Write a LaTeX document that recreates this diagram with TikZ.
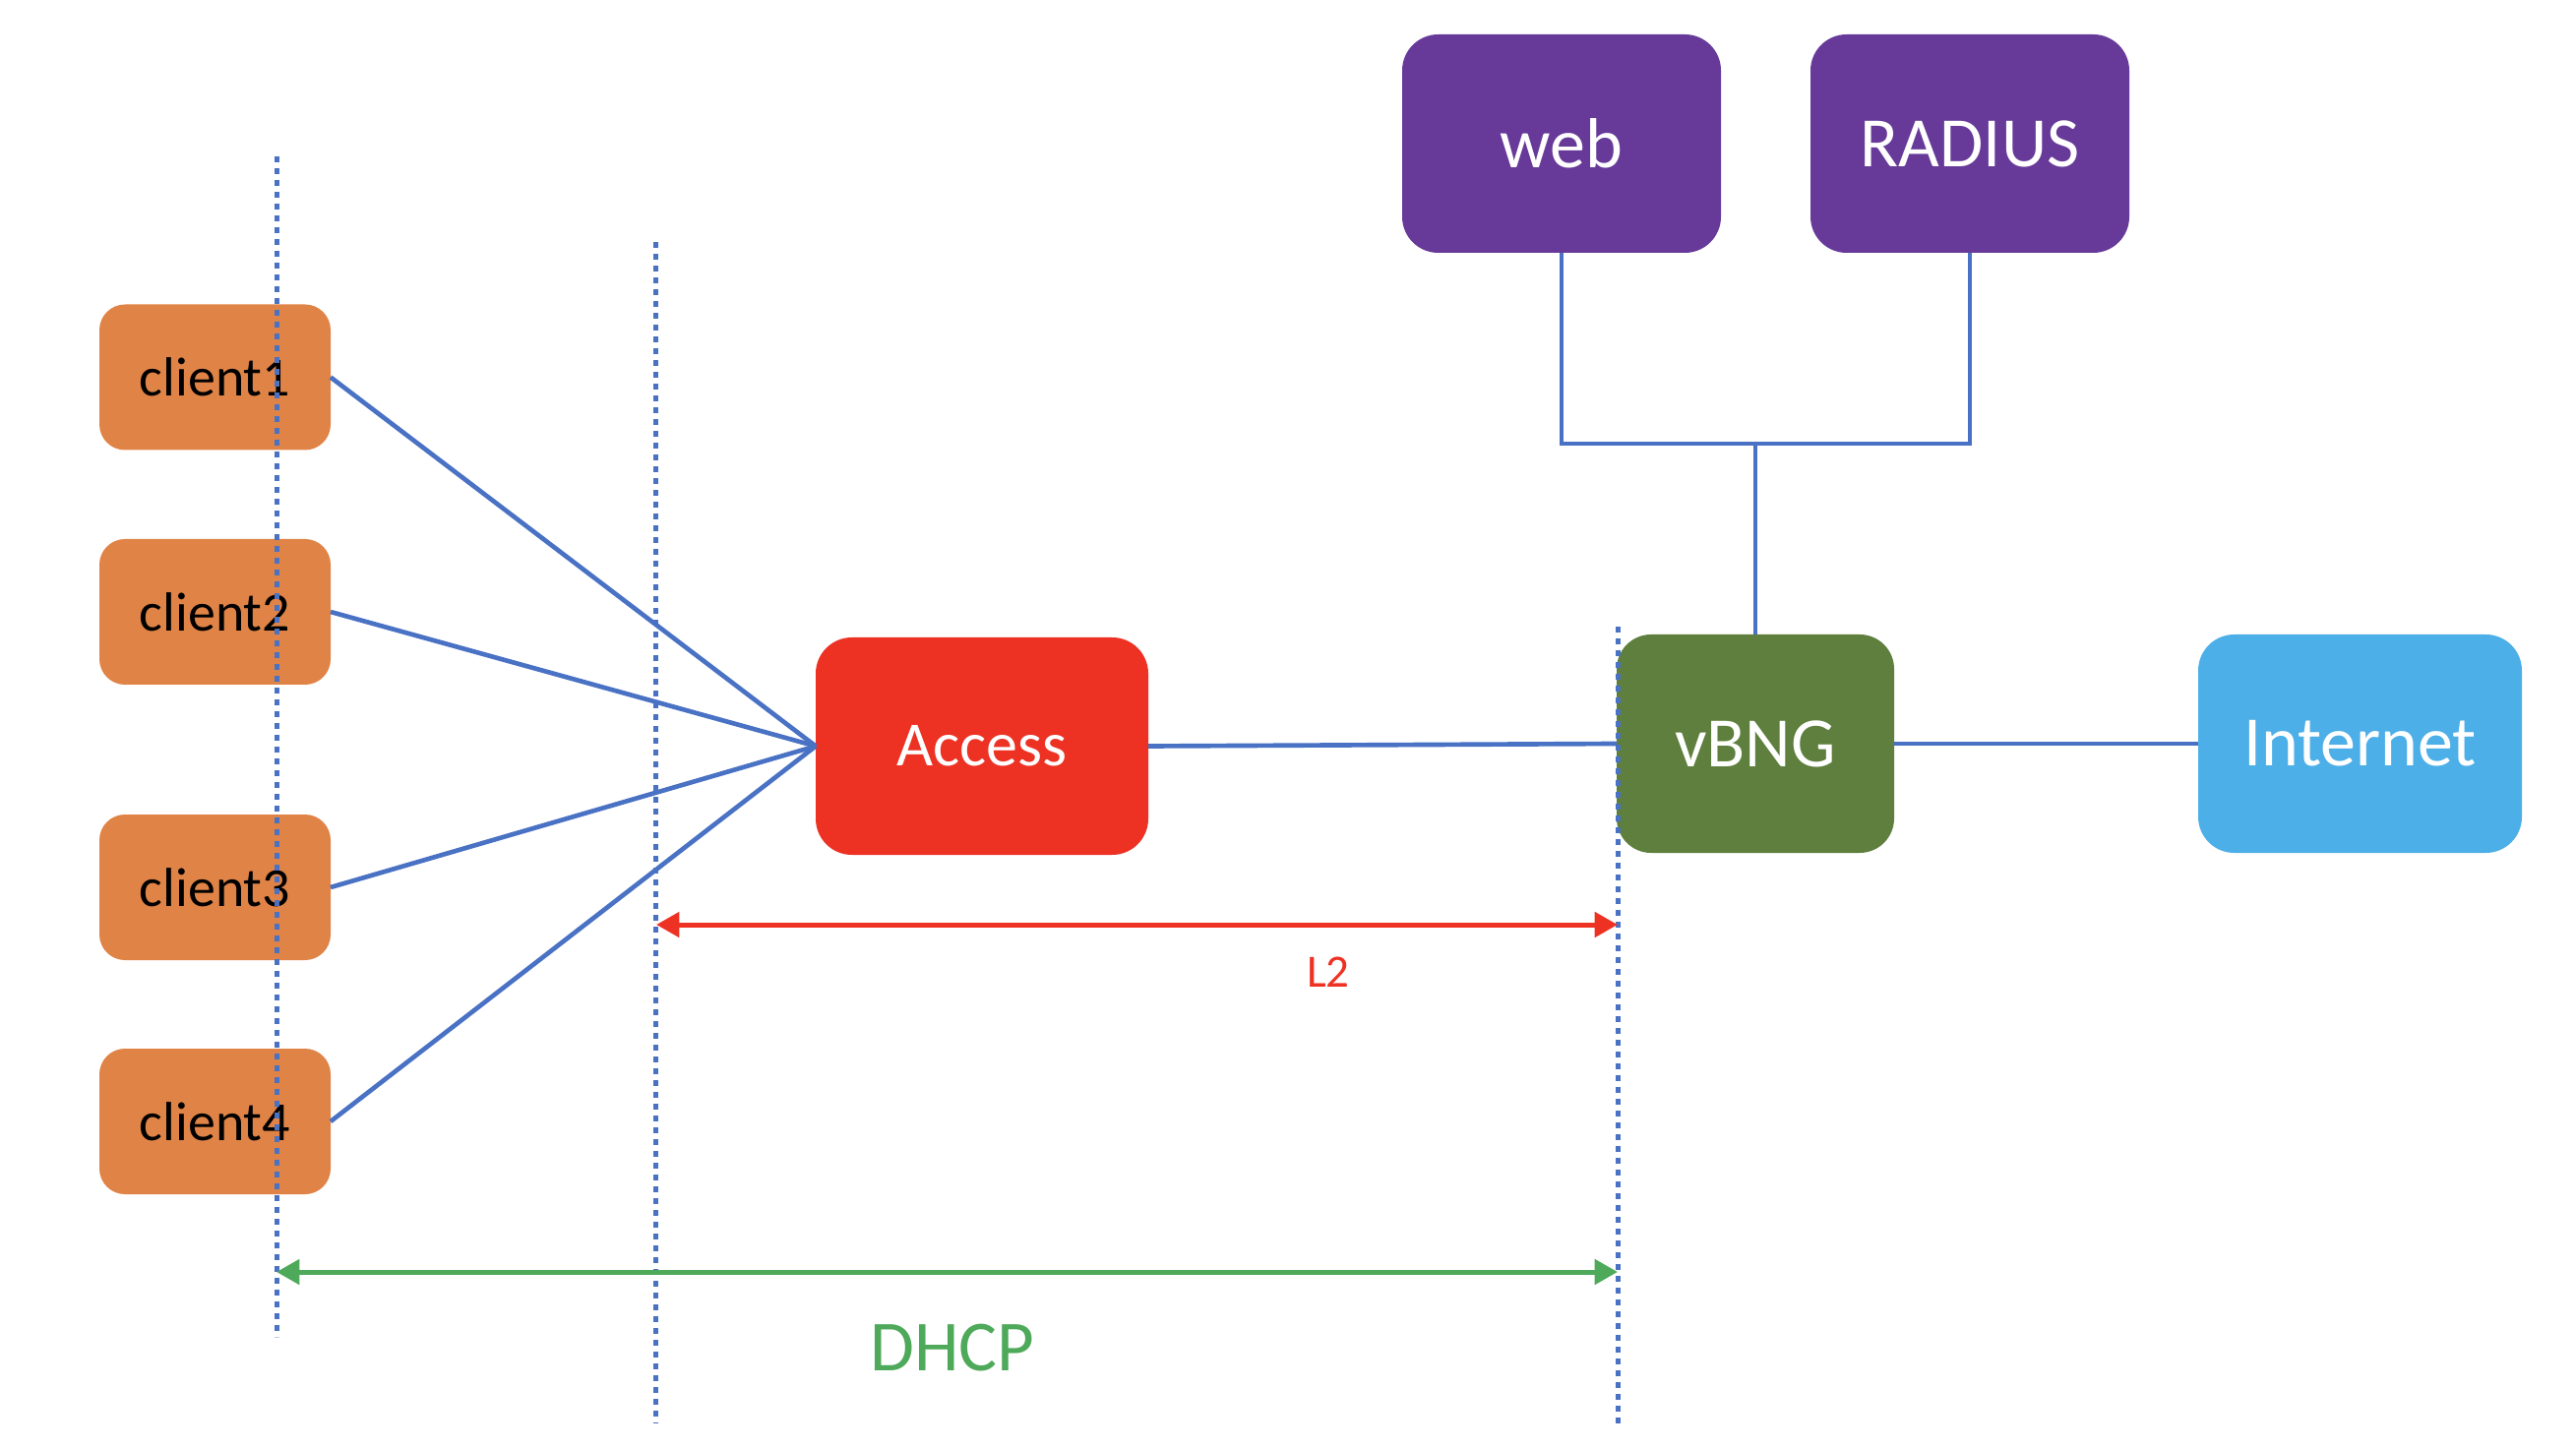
\documentclass[tikz,border=0pt]{standalone}
\usepackage{fontspec}
\setmainfont{Carlito}
\usetikzlibrary{arrows.meta}
\definecolor{clientc}{RGB}{224,131,70}
\definecolor{accessc}{RGB}{237,50,36}
\definecolor{vbngc}{RGB}{94,127,61}
\definecolor{inetc}{RGB}{77,175,232}
\definecolor{purplec}{RGB}{103,58,153}
\definecolor{linkc}{RGB}{74,114,196}
\definecolor{redc}{RGB}{237,50,36}
\definecolor{greenc}{RGB}{78,169,90}
\tikzset{
  box/.style={inner sep=0pt, outer sep=0pt, text=white, font=\fontsize{21.6}{24}\selectfont},
  clientbox/.style={box, fill=clientc, text=black, minimum width=70.5pt, minimum height=44.4pt, rounded corners=7.8pt, font=\fontsize{16.8}{19}\selectfont},
  bigbox/.style={box, minimum height=66.6pt, rounded corners=11pt},
  link/.style={draw=linkc, line width=1.4pt},
  guide/.style={draw=linkc, line width=1.5pt, dash pattern=on 1.8pt off 1.8pt},
  span/.style={line width=1.5pt, {Triangle[length=7pt,width=7.5pt]}-{Triangle[length=7pt,width=7.5pt]}},
}
\begin{document}
\begin{tikzpicture}[x=0.3pt,y=-0.3pt]
\useasboundingbox (0,0) rectangle (2618,1473);
% clients
\node[clientbox] (c1) at (218.5,383.5) {client1};
\node[clientbox] (c2) at (218.5,622) {client2};
\node[clientbox] (c3) at (218.5,902) {client3};
\node[clientbox] (c4) at (218.5,1140) {client4};
% main boxes
\node[bigbox, fill=accessc, minimum width=101.4pt, minimum height=66.3pt, font=\fontsize{19.2}{22}\selectfont] (access) at (998,758.5) {Access};
\node[bigbox, fill=vbngc, minimum width=84.6pt, rounded corners=10.5pt] (vbng) at (1784,756) {vBNG};
\node[bigbox, fill=inetc, minimum width=98.7pt] (inet) at (2398.5,756) {Internet};
\node[bigbox, fill=purplec, minimum width=97.2pt] (web) at (1587,146) {web};
\node[bigbox, fill=purplec, minimum width=97.2pt] (radius) at (2002,146) {RADIUS};
% links
\draw[link] (c1.east) -- (access.west);
\draw[link] (c2.east) -- (access.west);
\draw[link] (c3.east) -- (access.west);
\draw[link] (c4.east) -- (access.west);
\draw[link] (access.east) -- (vbng.west);
\draw[link] (vbng.east) -- (inet.west);
\coordinate (jn) at (1784,451);
\draw[link] (web.south) |- (jn) -| (radius.south);
\draw[link] (jn) -- (vbng.north);
% guide lines
\coordinate (g1t) at (281,159);
\coordinate (g1b) at (281,1359);
\coordinate (g2t) at (666,246);
\coordinate (g2b) at (666,1447);
\coordinate (g3t) at (1644,637);
\coordinate (g3b) at (1644,1447);
\draw[guide] (g1t) -- (g1b);
\draw[guide] (g2t) -- (g2b);
\draw[guide] (g3t) -- (g3b);
% spans
\coordinate (l2a) at (667,940);
\coordinate (l2b) at (1644,940);
\coordinate (dha) at (281,1293);
\coordinate (dhb) at (1644,1293);
\draw[span, draw=redc, fill=redc] (l2a) -- (l2b);
\draw[span, draw=greenc, fill=greenc] (dha) -- (dhb);
\node[text=redc, font=\fontsize{14.1}{16}\selectfont] (l2) at (1350,988) {L2};
\node[text=greenc, font=\fontsize{21.9}{24}\selectfont] (dhcp) at (968,1370) {DHCP};
\end{tikzpicture}
\end{document}
